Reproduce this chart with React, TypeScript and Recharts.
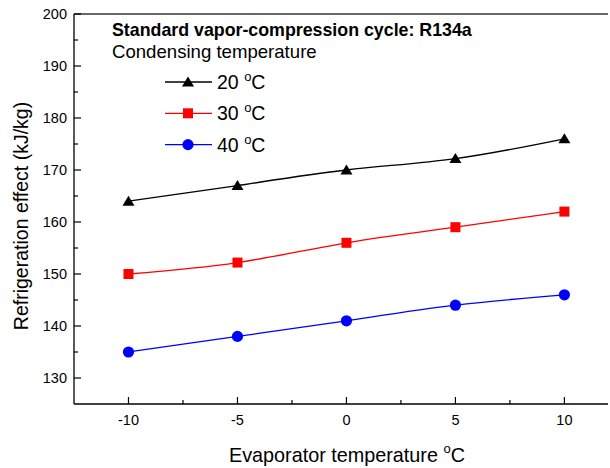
import { Legend, Line, LineChart, ReferenceLine, XAxis, YAxis } from 'recharts'

const evapTemps = [-10, -5, 0, 5, 10]
const effect20 = [164, 167, 170, 172.2, 176]
const effect30 = [150, 152.2, 156, 159, 162]
const effect40 = [135, 138, 141, 144, 146]

const xTicks = [-10, -7.5, -5, -2.5, 0, 2.5, 5, 7.5, 10]
const yTicks = [130, 135, 140, 145, 150, 155, 160, 165, 170, 175, 180, 185, 190, 195, 200]

const series = [
  { key: 'c20', label: '20', color: '#000000', shape: 'triangle' },
  { key: 'c30', label: '30', color: '#ff0000', shape: 'square' },
  { key: 'c40', label: '40', color: '#0000ff', shape: 'circle' },
]

const data = evapTemps.map((t, i) => ({ t, c20: effect20[i], c30: effect30[i], c40: effect40[i] }))

const FONT = '"Liberation Sans", Arial, sans-serif'

function Marker({ shape, color, cx, cy }: { shape: string; color: string; cx: number; cy: number }) {
  if (shape === 'triangle') {
    return <path d={`M${cx},${cy - 5.5}L${cx + 6},${cy + 4.5}L${cx - 6},${cy + 4.5}Z`} fill={color} />
  }
  if (shape === 'square') {
    return <rect x={cx - 5} y={cy - 5} width={10} height={10} fill={color} />
  }
  return <circle cx={cx} cy={cy} r={5.6} fill={color} />
}

const dotFor = (shape: string, color: string) => (props: any) => (
  <Marker key={`${shape}-${props.index}`} shape={shape} color={color} cx={props.cx} cy={props.cy} />
)

function XTick({ x, y, payload }: any) {
  const major = payload.value % 5 === 0
  return (
    <g>
      <line x1={x} x2={x} y1={y} y2={y - (major ? 7 : 4)} stroke="#000" strokeWidth={1.2} />
      {major && (
        <text x={x} y={y + 21} textAnchor="middle" fontSize={14.5} fontFamily={FONT} fill="#000">
          {payload.value}
        </text>
      )}
    </g>
  )
}

function YTick({ x, y, payload }: any) {
  const major = payload.value % 10 === 0
  return (
    <g>
      <line x1={x} x2={x + (major ? 7 : 4)} y1={y} y2={y} stroke="#000" strokeWidth={1.2} />
      {major && (
        <text x={x - 7} y={y} dy="0.35em" textAnchor="end" fontSize={14.5} fontFamily={FONT} fill="#000">
          {payload.value}
        </text>
      )}
    </g>
  )
}

function LegendBox({ payload }: any) {
  return (
    <svg width={420} height={150} style={{ overflow: 'visible' }}>
      <text x={12} y={22} fontSize={17.8} fontWeight="bold" fontFamily={FONT} fill="#000">
        Standard vapor-compression cycle: R134a
      </text>
      <text x={12} y={44} fontSize={18.6} fontFamily={FONT} fill="#000">
        Condensing temperature
      </text>
      {(payload || []).map((p: any, i: number) => {
        const s = series.find((d) => d.key === p.dataKey) || series[i]
        const cy = 68 + i * 31.3
        return (
          <g key={s.key}>
            <line x1={65} x2={112} y1={cy} y2={cy} stroke={s.color} strokeWidth={1.3} />
            <Marker shape={s.shape} color={s.color} cx={88} cy={cy} />
            <text x={117} y={cy} dy="0.36em" fontSize={19.5} fontFamily={FONT} fill="#000">
              {s.label}{' '}
              <tspan fontSize={13} dy={-8}>o</tspan>
              <tspan dy={8}>C</tspan>
            </text>
          </g>
        )
      })}
    </svg>
  )
}

export default function App() {
  return (
    <div style={{ position: 'absolute', left: 0, top: 0, width: 610, height: 468, background: '#fff' }}>
      <LineChart width={610} height={468} data={data} margin={{ top: 14, right: 2, left: 0, bottom: 0 }}>
        <XAxis
          dataKey="t"
          type="number"
          domain={[-12.5, 12]}
          ticks={xTicks}
          interval={0}
          tickSize={0}
          tickMargin={0}
          tick={<XTick />}
          axisLine={{ stroke: '#000', strokeWidth: 1.3 }}
          height={64}
          label={{
            content: ({ viewBox }: any) => (
              <text
                x={viewBox.x + viewBox.width / 2 + 6}
                y={viewBox.y + 58}
                textAnchor="middle"
                fontSize={19.8}
                fontFamily={FONT}
                fill="#000"
              >
                Evaporator temperature{' '}
                <tspan fontSize={13} dy={-9}>o</tspan>
                <tspan dy={9}>C</tspan>
              </text>
            ),
          }}
        />
        <YAxis
          type="number"
          domain={[125, 200]}
          ticks={yTicks}
          interval={0}
          tickSize={0}
          tickMargin={0}
          tick={<YTick />}
          axisLine={{ stroke: '#000', strokeWidth: 1.3 }}
          width={74}
          label={{
            content: ({ viewBox }: any) => {
              const cx = 28
              const cy = viewBox.y + viewBox.height / 2 + 7
              return (
                <text
                  x={cx}
                  y={cy}
                  transform={`rotate(-90 ${cx} ${cy})`}
                  textAnchor="middle"
                  fontSize={19.5}
                  fontFamily={FONT}
                  fill="#000"
                >
                  Refrigeration effect (kJ/kg)
                </text>
              )
            },
          }}
        />
        <ReferenceLine y={200} stroke="#333" strokeWidth={1.5} />
        <Legend
          layout="vertical"
          align="center"
          verticalAlign="middle"
          content={<LegendBox />}
          wrapperStyle={{ left: 100, top: 14, width: 420, height: 150 }}
        />
        {series.map((s) => (
          <Line
            key={s.key}
            dataKey={s.key}
            type="natural"
            stroke={s.color}
            strokeWidth={1.3}
            dot={dotFor(s.shape, s.color)}
            activeDot={false}
            isAnimationActive={false}
          />
        ))}
      </LineChart>
    </div>
  )
}
